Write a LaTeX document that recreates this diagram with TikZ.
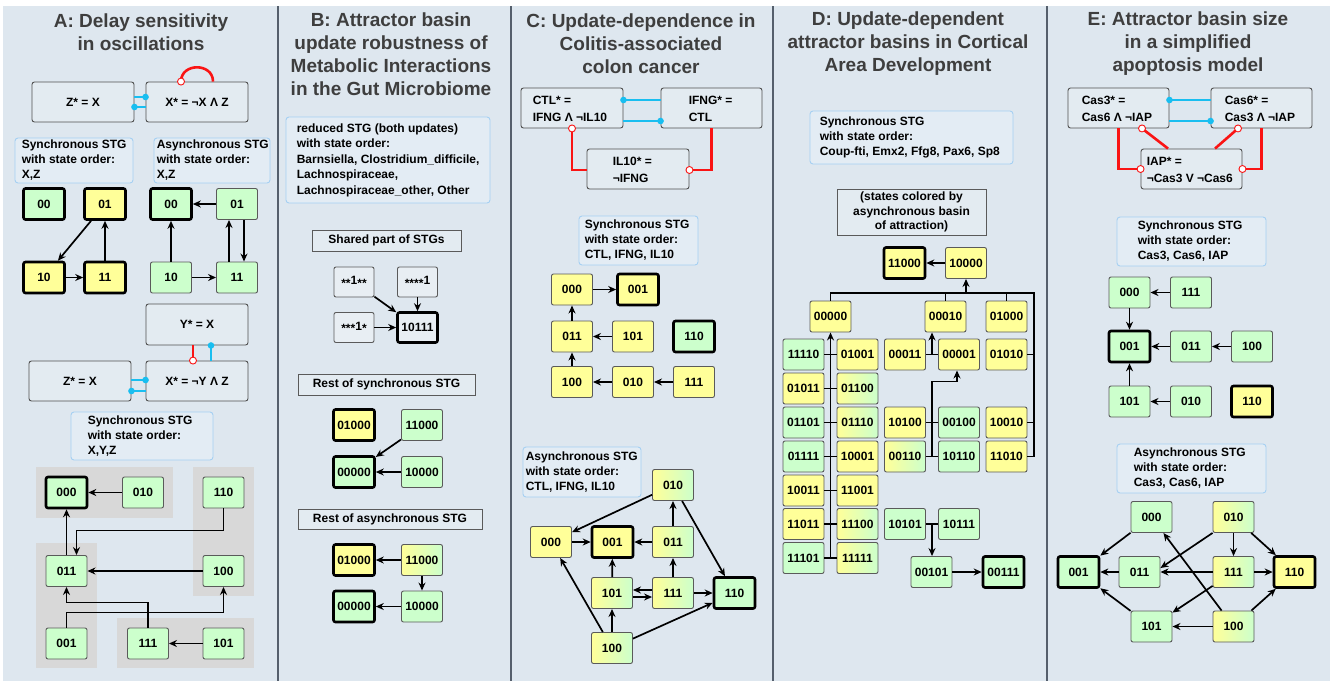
\documentclass[tikz,border=0pt]{standalone}
\usepackage{fontspec}
\setmainfont{Liberation Sans}
\usetikzlibrary{arrows.meta,calc}
\definecolor{panelbg}{RGB}{222,231,239}
\definecolor{sepc}{RGB}{85,95,108}
\definecolor{rulefill}{RGB}{227,235,241}
\definecolor{ruleborder}{RGB}{80,80,80}
\definecolor{lblfill}{RGB}{227,236,244}
\definecolor{lblborder}{RGB}{165,208,242}
\definecolor{ylw}{RGB}{255,255,153}
\definecolor{grn}{RGB}{204,255,204}
\definecolor{regiongray}{RGB}{216,216,216}
\definecolor{actc}{RGB}{25,190,240}
\definecolor{inhc}{RGB}{250,20,20}
\definecolor{titlec}{RGB}{62,62,62}
\definecolor{stborder}{RGB}{90,90,90}
\definecolor{neutralfill}{RGB}{232,238,243}
\newcommand\smast{\raisebox{-2.6pt}{*}}
\tikzset{
 ttl/.style={align=center, text=titlec, font=\bfseries\fontsize{19}{23}\selectfont, inner sep=0},
 rulebox/.style={draw=ruleborder, fill=rulefill, rounded corners=2.5pt, line width=0.9pt, minimum width=102pt, minimum height=40pt, inner sep=0, font=\bfseries\fontsize{12}{17}\selectfont},
 ruletxt/.style={align=left, inner sep=0, anchor=west, font=\bfseries\fontsize{12}{17}\selectfont},
 lblbox/.style={draw=lblborder, fill=lblfill, rounded corners=3pt, line width=0.9pt, inner sep=0},
 lbltxt/.style={align=left, inner sep=0, anchor=west, font=\bfseries\fontsize{12}{15}\selectfont},
 plainbox/.style={draw=stborder, fill=rulefill, line width=0.9pt, inner sep=0, align=center, font=\bfseries\fontsize{12}{14.5}\selectfont},
 st/.style={draw=stborder, line width=0.9pt, rounded corners=2pt, minimum width=41pt, minimum height=31pt, inner sep=0, font=\bfseries\fontsize{12}{14}\selectfont},
 ys/.style={st, fill=ylw},
 gs/.style={st, fill=grn},
 ns/.style={st, fill=neutralfill},
 yg/.style={st, left color=ylw, right color=grn},
 gyg/.style={st, left color=grn, middle color=ylw, right color=grn},
 att/.style={draw=black, line width=2.6pt},
 arr/.style={-{Stealth[length=8pt,width=7pt]}, line width=1.7pt, black},
 bus/.style={line width=1.7pt, black},
 act/.style={actc, line width=2.6pt},
 inh/.style={inhc, line width=2.6pt},
 region/.style={fill=regiongray, draw=none},
 odot/.style={inhc, line width=0.9pt, fill=white},
}
\begin{document}
\begin{tikzpicture}[x=1pt,y=-1pt]
\path[use as bounding box] (0,0) rectangle (1337,681);
\fill[white] (0,0) rectangle (1337,681);
\fill[panelbg] (3,6) rectangle (1330,681);
\foreach \xx in {277.5,510.5,773,1046.5} \draw[sepc,line width=2pt] (\xx,6) -- (\xx,681);

%% ================= Panel A
\node[ttl] (tA) at (141,32) {A: Delay sensitivity\\in oscillations};
\node[rulebox] (rZa) at (83,102) {Z* = X};
\node[rulebox] (rXa) at (197,102) {X* = ¬X Λ Z};
\draw[act] ($(rZa.east)+(0,-5)$) -- ($(rXa.west)+(0,-5)$);
\fill[actc] ($(rXa.west)+(0,-5)$) circle (3.3pt);
\draw[act] ($(rZa.east)+(0,5)$) -- ($(rXa.west)+(0,5)$);
\fill[actc] ($(rZa.east)+(0,5)$) circle (3.3pt);
\draw[inh] ($(rXa.north)+(16,0)$) .. controls +(0,-19) and +(0,-19) .. ($(rXa.north)+(-16,0)$);
\draw[odot] ($(rXa.north)+(-16,0)$) circle (3.5pt);

\node[lblbox, minimum width=118pt, minimum height=45pt] (lAs) at (74,160.5) {};
\node[lbltxt] (lAst) at ($(lAs.west)+(7,0)$) {Synchronous STG\\with state order:\\X,Z};
\node[lblbox, minimum width=116pt, minimum height=45pt] (lAa) at (212,160.5) {};
\node[lbltxt] (lAat) at ($(lAa.west)+(3,0)$) {Asynchronous STG\\with state order:\\X,Z};

\node[gs,att] (a00s) at (44,204) {00};
\node[ys,att] (a01s) at (105,204) {01};
\node[ys,att] (a10s) at (44,277.5) {10};
\node[ys,att] (a11s) at (105,277.5) {11};
\draw[arr] (a01s) -- (a10s);
\draw[arr] (a10s) -- (a11s);
\draw[arr] (a11s) -- (a01s);

\node[gs,att] (a00a) at (171,204) {00};
\node[gs] (a01a) at (237,204) {01};
\node[gs] (a10a) at (171,277.5) {10};
\node[gs] (a11a) at (237,277.5) {11};
\draw[arr] (a01a) -- (a00a);
\draw[arr] (a10a) -- (a00a);
\draw[arr] (a10a) -- (a11a);
\draw[arr] ($(a11a.north)+(-8,0)$) -- ($(a01a.south)+(-8,0)$);
\draw[arr] ($(a01a.south)+(7,0)$) -- ($(a11a.north)+(7,0)$);

\node[rulebox, minimum height=41pt] (rYa) at (197,324.5) {Y* = X};
\node[rulebox] (rZb) at (80,381) {Z* = X};
\node[rulebox] (rXb) at (197,381) {X* = ¬Y Λ Z};
\draw[inh] ($(rYa.south)+(-4,0)$) -- ($(rXb.north)+(-4,0)$);
\draw[odot] ($(rXb.north)+(-4,0)$) circle (3.5pt);
\draw[act] ($(rXb.north)+(14,0)$) -- ($(rYa.south)+(14,0)$);
\fill[actc] ($(rYa.south)+(14,0)$) circle (3.3pt);
\draw[act] ($(rZb.east)+(0,-1)$) -- ($(rXb.west)+(0,-1)$);
\fill[actc] ($(rXb.west)+(0,-1)$) circle (3.3pt);
\draw[act] ($(rZb.east)+(0,10)$) -- ($(rXb.west)+(0,10)$);
\fill[actc] ($(rZb.east)+(0,10)$) circle (3.3pt);

\node[lblbox, minimum width=142pt, minimum height=48pt] (lA3) at (142,436) {};
\node[lbltxt] (lA3t) at ($(lA3.west)+(17,0)$) {Synchronous STG\\with state order:\\X,Y,Z};

\fill[region] (36,467) rectangle (173,518);
\fill[region] (193,467) rectangle (254,596);
\fill[region] (36,543) rectangle (97,668);
\fill[region] (117,618) rectangle (254,668);

\node[gs,att] (b000) at (66.5,492.5) {000};
\node[gs] (b010) at (143,492.5) {010};
\node[gs] (b110) at (223.5,492.5) {110};
\node[gs] (b011) at (66.5,571) {011};
\node[gs] (b100) at (223.5,571) {100};
\node[gs] (b001) at (66.5,643.5) {001};
\node[gs] (b111) at (148,643.5) {111};
\node[gs] (b101) at (223.5,643.5) {101};
\draw[arr] (b010) -- (b000);
\draw[arr] (b011) -- (b000);
\draw[arr] (b110.south) -- ++(0,22) -| ($(b011.north)+(10,0)$);
\draw[arr] (b100) -- (b011);
\draw[arr] (b111.north) -- ++(0,-25) -| (b011.south);
\draw[arr] (b001.north) -- ++(0,-15) -| (b100.south);
\draw[arr] (b101) -- (b111);

%% ================= Panel B
\node[ttl] (tB) at (391,54.5) {B: Attractor basin\\update robustness of\\Metabolic Interactions\\in the Gut Microbiome};
\node[lblbox, minimum width=204pt, minimum height=86pt] (lB) at (388,160) {};
\node[lbltxt, font=\bfseries\fontsize{12}{15.5}\selectfont] (lBt) at ($(lB.west)+(11,0)$) {reduced STG (both updates)\\with state order:\\Barnsiella, Clostridium\_difficile,\\Lachnospiraceae,\\Lachnospiraceae\_other, Other};
\node[plainbox, minimum width=149pt, minimum height=21pt] (hB1) at (386.5,240.5) {Shared part of STGs};
\node[ns, minimum width=40pt, minimum height=30pt] (s1) at (354,282) {\smast\smast1\smast\smast};
\node[ns, minimum width=40pt, minimum height=30pt] (s2) at (417.5,282) {\smast\smast\smast\smast1};
\node[ns, minimum width=40pt, minimum height=30pt] (s3) at (354,327.5) {\smast\smast\smast1\smast};
\node[ns, att, minimum width=40pt, minimum height=30pt] (s4) at (417.5,327.5) {10111};
\draw[arr] (s1) -- (s4);
\draw[arr] (s2) -- (s4);
\draw[arr] (s3) -- (s4);

\node[plainbox, minimum width=177pt, minimum height=21pt] (hB2) at (386.5,384.5) {Rest of synchronous STG};
\node[ys,att] (r1) at (354,425) {01000};
\node[gs] (r2) at (422,425) {11000};
\node[gs,att] (r3) at (354,472) {00000};
\node[gs] (r4) at (422,472) {10000};
\draw[arr] (r2) -- (r3);
\draw[arr] (r4) -- (r3);

\node[plainbox, minimum width=184pt, minimum height=20pt] (hB3) at (390,519) {Rest of asynchronous STG};
\node[ys,att] (q1) at (354,560) {01000};
\node[yg] (q2) at (422,560) {11000};
\node[gs,att] (q3) at (354,606.5) {00000};
\node[gs] (q4) at (422,606.5) {10000};
\draw[arr] (q2) -- (q1);
\draw[arr] (q2) -- (q4);
\draw[arr] (q4) -- (q3);

%% ================= Panel C
\node[ttl] (tC) at (641,44) {C: Update-dependence in\\Colitis-associated\\colon cancer};
\node[rulebox] (rCTL) at (572,108) {};
\node[ruletxt] (rCTLt) at ($(rCTL.west)+(12,0.5)$) {CTL* =\\IFNG Λ ¬IL10};
\node[rulebox, minimum width=101pt] (rIFNG) at (711.5,108) {};
\node[ruletxt] (rIFNGt) at ($(rIFNG.west)+(28,0.5)$) {IFNG* =\\CTL};
\node[rulebox] (rIL10) at (638,169) {};
\node[ruletxt] (rIL10t) at ($(rIL10.west)+(26,0.5)$) {IL10* =\\¬IFNG};
\draw[act] ($(rCTL.east)+(0,-8)$) -- ($(rIFNG.west)+(0,-8)$);
\fill[actc] ($(rCTL.east)+(0,-8)$) circle (3.3pt);
\draw[act] ($(rCTL.east)+(0,13)$) -- ($(rIFNG.west)+(0,13)$);
\fill[actc] ($(rIFNG.west)+(0,13)$) circle (3.3pt);
\draw[inh] ($(rIL10.west)+(0,1)$) -| (rCTL.south);
\draw[odot] (rCTL.south) circle (3.5pt);
\draw[inh] (rIFNG.south) |- ($(rIL10.east)+(0,1)$);
\draw[odot] ($(rIL10.east)+(0,1)$) circle (3.5pt);

\node[lblbox, minimum width=119pt, minimum height=49pt] (lC1) at (638.5,240.5) {};
\node[lbltxt] (lC1t) at ($(lC1.west)+(6,0)$) {Synchronous STG\\with state order:\\CTL, IFNG, IL10};
\node[ys] (c000) at (572,289.5) {000};
\node[ys,att] (c001) at (638,289.5) {001};
\node[ys] (c011) at (572,336.5) {011};
\node[ys] (c101) at (633,336.5) {101};
\node[gs,att] (c110) at (694,336.5) {110};
\node[ys] (c100) at (572,382) {100};
\node[ys] (c010) at (633,382) {010};
\node[ys] (c111) at (694,382) {111};
\draw[arr] (c000) -- (c001);
\draw[arr] (c011) -- (c000);
\draw[arr] (c101) -- (c011);
\draw[arr] (c100) -- (c011);
\draw[arr] (c010) -- (c100);
\draw[arr] (c111) -- (c010);

\node[lblbox, minimum width=118pt, minimum height=50pt] (lC2) at (582,472) {};
\node[lbltxt] (lC2t) at ($(lC2.west)+(3,0)$) {Asynchronous STG\\with state order:\\CTL, IFNG, IL10};
\node[yg] (d010) at (673,485) {010};
\node[ys] (d000) at (551,542) {000};
\node[ys,att] (d001) at (612.5,542) {001};
\node[yg] (d011) at (673,542) {011};
\node[yg] (d101) at (612,593) {101};
\node[yg] (d111) at (673,593) {111};
\node[gs,att] (d110) at (734.5,593) {110};
\node[yg] (d100) at (612,648) {100};
\draw[arr] (d010) -- (d000);
\draw[arr] (d010) -- (d110);
\draw[arr] (d011) -- (d010);
\draw[arr] (d011) -- (d001);
\draw[arr] (d000) -- (d001);
\draw[arr] (d101) -- (d001);
\draw[arr] (d111) -- (d011);
\draw[arr] ($(d111.west)+(0,-3)$) -- ($(d101.east)+(0,-3)$);
\draw[arr] ($(d101.east)+(0,4)$) -- ($(d111.west)+(0,4)$);
\draw[arr] (d111) -- (d110);
\draw[arr] (d100) -- (d101);
\draw[arr] (d100) -- (d000);
\draw[arr] (d100) -- (d110);

%% ================= Panel D
\node[ttl] (tD) at (908,43.5) {D: Update-dependent\\attractor basins in Cortical\\Area Development};
\node[lblbox, minimum width=203pt, minimum height=53pt] (lD) at (911.5,137.5) {};
\node[lbltxt] (lDt) at ($(lD.west)+(10,0)$) {Synchronous STG\\with state order:\\Coup-fti, Emx2, Ffg8, Pax6, Sp8};
\node[plainbox, minimum width=149pt, minimum height=46pt] (hD) at (911.5,212) {(states colored by\\asynchronous basin\\of attraction)};

\node[ys,att] (e11000) at (904.5,263) {11000};
\node[ys] (e10000) at (966,263) {10000};
\node[ys] (e00000) at (830.5,316.5) {00000};
\node[ys] (e00010) at (945.5,316.5) {00010};
\node[ys] (e01000) at (1006.5,316.5) {01000};
% row 2
\node[gyg] (e11110) at (803.5,354.5) {11110};
\node[ys] (e01001) at (857.5,354.5) {01001};
\node[ys] (e00011) at (905,354.5) {00011};
\node[ys] (e00001) at (959,354.5) {00001};
\node[ys] (e01010) at (1006.5,354.5) {01010};
% row 3
\node[ys] (e01011) at (803.5,388.5) {01011};
\node[yg] (e01100) at (857.5,388.5) {01100};
% row 4
\node[gyg] (e01101) at (803.5,422.5) {01101};
\node[yg] (e01110) at (857.5,422.5) {01110};
\node[ys] (e10100) at (905,422.5) {10100};
\node[gyg] (e00100) at (959,422.5) {00100};
\node[ys] (e10010) at (1006.5,422.5) {10010};
% row 5
\node[gyg] (e01111) at (803.5,456.5) {01111};
\node[ys] (e10001) at (857.5,456.5) {10001};
\node[yg] (e00110) at (905,456.5) {00110};
\node[gyg] (e10110) at (959,456.5) {10110};
\node[ys] (e11010) at (1006.5,456.5) {11010};
% row 6
\node[ys] (e10011) at (803.5,490.5) {10011};
\node[ys] (e11001) at (857.5,490.5) {11001};
% row 7
\node[ys] (e11011) at (803.5,524) {11011};
\node[yg] (e11100) at (857.5,524) {11100};
\node[gs] (e10101) at (905,524) {10101};
\node[gs] (e10111) at (959,524) {10111};
% row 8
\node[gyg] (e11101) at (803.5,558) {11101};
\node[yg] (e11111) at (857.5,558) {11111};
\node[gs] (e00101) at (931.5,572) {00101};
\node[gs,att] (e00111) at (1003.5,572) {00111};

\draw[arr] (e10000) -- (e11000);
\coordinate (dB) at (966,293);
\coordinate (dR) at (1034,293);
\draw[arr] (dB) -- (e10000.south);
\draw[bus] (e00000.north) |- (dR) -- (dR |- e11010.east) -- (e11010.east);
\draw[bus] (e00010.north) -- (e00010.north |- dB);
\draw[bus] (e01000.north) -- (e01000.north |- dB);
\draw[bus] (e01010.east) -- (e01010.east -| dR);
\draw[bus] (e10010.east) -- (e10010.east -| dR);

\draw[arr] (e11101.east) -| (e00000.south);
\draw[bus] (e11110.east) -- (e01001.west);
\draw[bus] (e01011.east) -- (e01100.west);
\draw[bus] (e01101.east) -- (e01110.west);
\draw[bus] (e01111.east) -- (e10001.west);
\draw[bus] (e10011.east) -- (e11001.west);
\draw[bus] (e11011.east) -- (e11100.west);
\draw[bus] (e11101.east) -- (e11111.west);

\draw[bus] (e00011.east) -- (e00001.west);
\coordinate (m2) at ($(e00011.east)!0.5!(e00001.west)$);
\draw[arr] (m2) -- (m2 |- e00010.south);
\draw[bus] (e10100.east) -- (e00100.west);
\draw[bus] (e00110.east) -- (e10110.west);
\coordinate (m5) at ($(e00110.east)!0.5!(e10110.west)$);
\draw[arr] (m5) |- ($(e00001.south)+(-2,11)$) -- ($(e00001.south)+(-2,0)$);
\draw[bus] (e10101.east) -- (e10111.west);
\coordinate (m7) at ($(e10101.east)!0.5!(e10111.west)$);
\draw[arr] (m7) -- (m7 |- e00101.north);
\draw[arr] (e00101) -- (e00111);

%% ================= Panel E
\node[ttl] (tE) at (1188,43.5) {E: Attractor basin size\\in a simplified\\apoptosis model};
\node[rulebox, minimum width=101pt] (rCas3) at (1118.5,108) {};
\node[ruletxt] (rCas3t) at ($(rCas3.west)+(14,0.5)$) {Cas3* =\\Cas6 Λ ¬IAP};
\node[rulebox, minimum width=101pt] (rCas6) at (1261.5,108) {};
\node[ruletxt] (rCas6t) at ($(rCas6.west)+(14,0.5)$) {Cas6* =\\Cas3 Λ ¬IAP};
\node[rulebox, minimum width=101pt] (rIAP) at (1191.5,169) {};
\node[ruletxt] (rIAPt) at ($(rIAP.west)+(6,0.5)$) {IAP* =\\¬Cas3 V ¬Cas6};
\draw[act] ($(rCas3.east)+(0,-8)$) -- ($(rCas6.west)+(0,-8)$);
\fill[actc] ($(rCas3.east)+(0,-8)$) circle (3.3pt);
\draw[act] ($(rCas3.east)+(0,13)$) -- ($(rCas6.west)+(0,13)$);
\fill[actc] ($(rCas6.west)+(0,13)$) circle (3.3pt);
\draw[inh] (rCas3.south) |- (rIAP.west);
\draw[odot] (rIAP.west) circle (3.5pt);
\draw[inh] (rCas6.south) |- (rIAP.east);
\draw[odot] (rIAP.east) circle (3.5pt);
\draw[inh] ($(rIAP.north)+(-23.5,0)$) -- ($(rCas3.south)+(23.5,0)$);
\draw[odot] ($(rCas3.south)+(23.5,0)$) circle (3.5pt);
\draw[inh] ($(rIAP.north)+(23.5,0)$) -- ($(rCas6.south)+(-23.5,0)$);
\draw[odot] ($(rCas6.south)+(-23.5,0)$) circle (3.5pt);

\node[lblbox, minimum width=149pt, minimum height=49pt] (lE1) at (1191.5,241.5) {};
\node[lbltxt] (lE1t) at ($(lE1.west)+(21,0)$) {Synchronous STG\\with state order:\\Cas3, Cas6, IAP};
\node[gs] (f000) at (1129.5,292.5) {000};
\node[gs] (f111) at (1191,292.5) {111};
\node[gs,att] (f001) at (1129.5,346.5) {001};
\node[gs] (f011) at (1191,346.5) {011};
\node[gs] (f100) at (1252,346.5) {100};
\node[gs] (f101) at (1129.5,401.5) {101};
\node[gs] (f010) at (1191,401.5) {010};
\node[ys,att] (f110) at (1252,401.5) {110};
\draw[arr] (f111) -- (f000);
\draw[arr] (f000) -- (f001);
\draw[arr] (f011) -- (f001);
\draw[arr] (f100) -- (f011);
\draw[arr] (f101) -- (f001);
\draw[arr] (f010) -- (f101);

\node[lblbox, minimum width=149pt, minimum height=49pt] (lE2) at (1191.5,468.5) {};
\node[lbltxt] (lE2t) at ($(lE2.west)+(17,0)$) {Asynchronous STG\\with state order:\\Cas3, Cas6, IAP};
\node[gs] (g000) at (1151.5,517) {000};
\node[yg] (g010) at (1233.5,517) {010};
\node[gs,att] (g001) at (1078.5,572) {001};
\node[gs] (g011) at (1139.5,572) {011};
\node[yg] (g111) at (1233.5,572) {111};
\node[ys,att] (g110) at (1294.5,572) {110};
\node[gs] (g101) at (1151.5,626.5) {101};
\node[yg] (g100) at (1233.5,626.5) {100};
\draw[arr] (g000) -- (g001);
\draw[arr] (g011) -- (g001);
\draw[arr] (g101) -- (g001);
\draw[arr] (g010.south west) -- ($(g011.east)+(0,-4)$);
\draw[arr] (g010) -- (g111);
\draw[arr] (g010) -- (g110);
\draw[arr] (g111) -- (g011);
\draw[arr] (g111) -- (g110);
\draw[arr] (g111) -- (g101);
\draw[arr] (g100) -- (g000);
\draw[arr] (g100) -- (g101);
\draw[arr] (g100) -- (g110);
\end{tikzpicture}
\end{document}
